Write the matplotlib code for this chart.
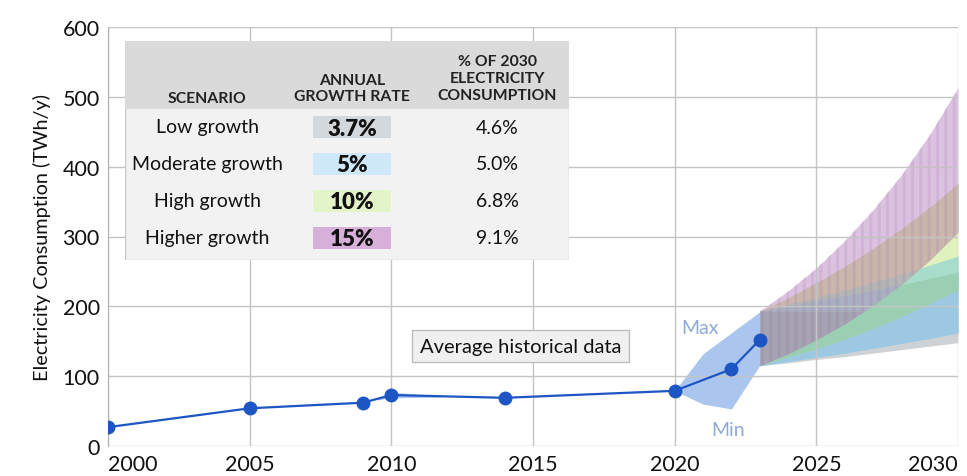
import numpy as np
import matplotlib.pyplot as plt
from matplotlib.patches import Rectangle

plt.rcParams['font.family'] = ['Lato', 'DejaVu Sans']
plt.rcParams['hatch.linewidth'] = 2.2

# historical average consumption (TWh/y)
hist_years = [2000, 2005, 2009, 2010, 2014, 2020, 2022, 2023]
hist_values = [27, 54, 62, 73, 69, 79, 110, 152]

# min / max spread around recent data
spread_years = [2020, 2021, 2022, 2023]
spread_max = [79, 132, 162, 192]
spread_min = [79, 60, 53, 115]

# small spread around 2010
spread10_years = [2009.5, 2010, 2011.8]
spread10_max = [68, 77, 72]
spread10_min = [66, 69, 70]

# projections 2023-2030 for each scenario (lower / upper bound)
proj_years = [2023, 2024, 2025, 2026, 2027, 2028, 2029, 2030]
low_upper = [193, 200, 208, 215, 223, 231, 240, 249]
low_lower = [115, 119, 124, 128, 133, 138, 143, 148]
mod_upper = [193, 203, 213, 223, 235, 246, 259, 272]
mod_lower = [115, 121, 127, 133, 140, 147, 154, 162]
high_upper = [193, 212, 234, 257, 283, 311, 342, 376]
high_lower = [115, 127, 139, 153, 168, 185, 204, 224]
higher_upper = [193, 222, 255, 294, 338, 388, 446, 513]
higher_lower = [115, 132, 152, 175, 201, 231, 266, 306]
base_max = 193

# table
scenarios = ['Low growth', 'Moderate growth', 'High growth', 'Higher growth']
growth_rates = ['3.7%', '5%', '10%', '15%']
share_2030 = ['4.6%', '5.0%', '6.8%', '9.1%']
rate_colors = ['#d3d8dc', '#cfe8f8', '#e3f4c9', '#d6b0d8']

fig = plt.figure(figsize=(9.67, 4.77), dpi=100)
ax = fig.add_axes([108 / 967, 1 - 447 / 477, 850 / 967, 419 / 477])

ax.set_axisbelow('line')
ax.grid(True, color='#c4c4c4', linewidth=1)

# projection fans: overlapping parts get their own (blended) colour
fans = {
    'low': (low_lower, low_upper),
    'mod': (mod_lower, mod_upper),
    'high': (high_lower, high_upper),
    'higher': (higher_lower, higher_upper),
}
overlap_colors = [
    (('low',), '#cfd2d4'),
    (('mod',), '#aad6ee'),
    (('high',), '#dff2bd'),
    (('higher',), '#dcc2e1'),
    (('low', 'mod'), '#9cc8e2'),
    (('mod', 'high'), '#a8dccb'),
    (('high', 'higher'), '#cbb6ad'),
    (('low', 'mod', 'high'), '#9acfb4'),
    (('mod', 'high', 'higher'), '#b4b6b6'),
    (('low', 'mod', 'high', 'higher'), '#aab0c2'),
]
for keys, col in overlap_colors:
    lo = np.max([fans[k][0] for k in keys], axis=0)
    hi = np.min([fans[k][1] for k in keys], axis=0)
    ax.fill_between(proj_years, lo, hi, where=hi >= lo, interpolate=True,
                    color=col, linewidth=0)
# darker part of the common overlap below the 2023 maximum
lo = np.max([f[0] for f in fans.values()], axis=0)
hi = np.minimum(np.min([f[1] for f in fans.values()], axis=0), base_max)
ax.fill_between(proj_years, lo, hi, where=hi >= lo, interpolate=True,
                color='#a6a3b3', linewidth=0)
# vertical stripes over the higher-growth fan
ax.fill_between(proj_years, higher_lower, higher_upper, facecolor='none',
                edgecolor=(0.55, 0.35, 0.6, 0.13), hatch='||', linewidth=0)

# historical spread
ax.fill_between(spread_years, spread_min, spread_max, color='#aac6ee', linewidth=0)
ax.fill_between(spread10_years, spread10_min, spread10_max, color='#aac6ee', linewidth=0)

ax.plot(hist_years, hist_values, color='#1d55c4', linewidth=1.6, marker='o',
        markersize=9, zorder=3)

ax.text(2020.25, 170, 'Max', color='#8eaad8', fontsize=14, va='center')
ax.text(2021.3, 24, 'Min', color='#8eaad8', fontsize=14, va='center')
ax.text(2014.55, 143, 'Average historical data', fontsize=14.5, va='center', ha='center',
        color='#111111',
        bbox=dict(boxstyle='square,pad=0.38', facecolor='#f0f0f0', edgecolor='#bdbdbd'))

ax.set_xlim(2000, 2030)
ax.set_ylim(0, 600)
ax.set_xticks(range(2000, 2031, 5))
ax.set_yticks(range(0, 601, 100))
ax.tick_params(length=0, labelsize=15.5, colors='#111111', pad=6)
labels = ax.get_xticklabels()
labels[0].set_horizontalalignment('left')
labels[-1].set_horizontalalignment('right')
for s in ['top', 'right', 'bottom']:
    ax.spines[s].set_visible(False)
ax.spines['left'].set_color('#b0b0b0')
ax.set_ylabel('Electricity Consumption (TWh/y)', fontsize=14.3, color='#111111', labelpad=8)

# table drawn in its own pixel-based axes
tab = fig.add_axes([125 / 967, 1 - 261 / 477, 444 / 967, 219 / 477])
tab.set_xlim(0, 444)
tab.set_ylim(219, 0)
tab.axis('off')
tab.add_patch(Rectangle((0, 0), 444, 219, facecolor='#f2f2f2', edgecolor='#c8c8c8', lw=1))
tab.add_patch(Rectangle((0, 0), 444, 68, facecolor='#dadada', edgecolor='none'))
hdr = dict(fontsize=11.3, fontweight='bold', color='#222222', ha='center', va='center',
           linespacing=1.25)
tab.text(82, 57, 'SCENARIO', **hdr)
tab.text(227, 47, 'ANNUAL\nGROWTH RATE', **hdr)
tab.text(372, 37, '% OF 2030\nELECTRICITY\nCONSUMPTION', **hdr)
for i, name in enumerate(scenarios):
    yc = 86 + 37 * i
    tab.text(82, yc, name, fontsize=14, ha='center', va='center', color='#111111')
    tab.add_patch(Rectangle((188, yc - 11), 78, 22, facecolor=rate_colors[i], edgecolor='none'))
    tab.text(227, yc + 1, growth_rates[i], fontsize=16, fontweight='heavy', ha='center',
             va='center', color='#111111')
    tab.text(372, yc, share_2030[i], fontsize=14, ha='center', va='center', color='#111111')

fig.savefig('out.png', dpi=100)
